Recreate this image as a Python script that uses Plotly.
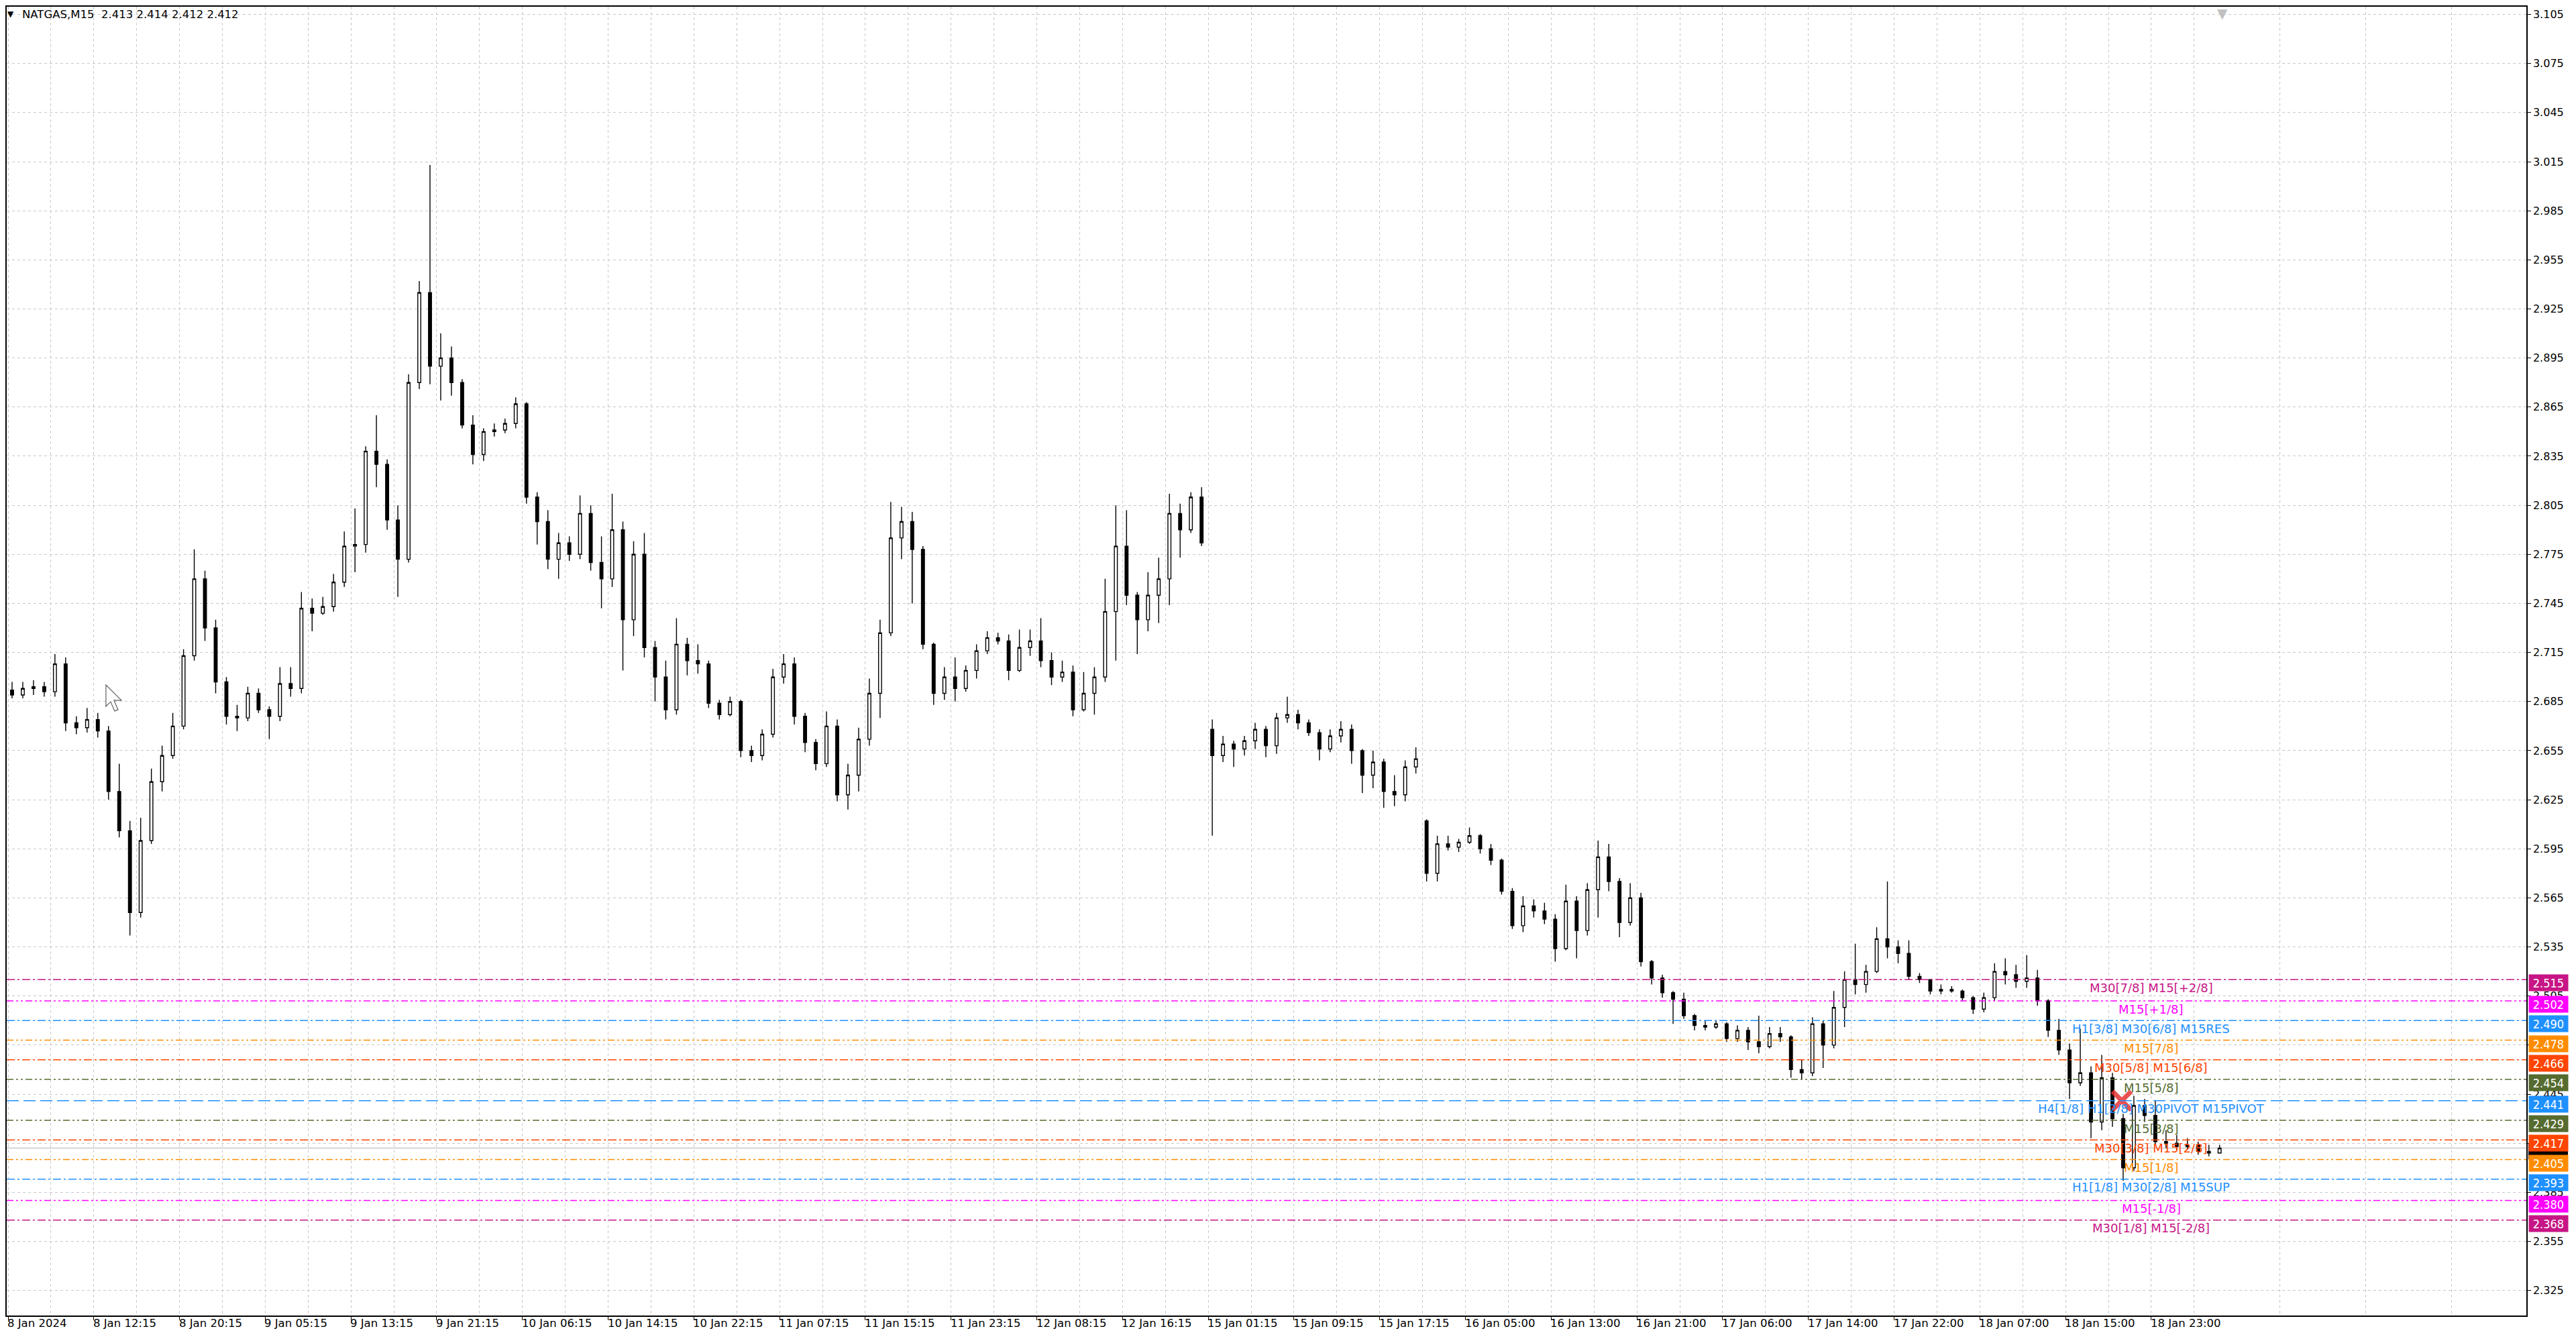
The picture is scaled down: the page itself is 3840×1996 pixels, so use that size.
import plotly.graph_objects as go

# ---------------- data (hourly candles) ----------------
opens = [2.692, 2.689, 2.693, 2.694, 2.691, 2.708, 2.672, 2.669, 2.674, 2.667,
         2.630, 2.606, 2.556, 2.600, 2.636, 2.652, 2.670, 2.713, 2.760, 2.730,
         2.697, 2.676, 2.675, 2.690, 2.680, 2.676, 2.696, 2.693, 2.742, 2.739,
         2.743, 2.758, 2.780, 2.781, 2.838, 2.830, 2.796, 2.772, 2.880, 2.935,
         2.890, 2.895, 2.880, 2.854, 2.836, 2.850, 2.851, 2.855, 2.867, 2.810,
         2.795, 2.772, 2.782, 2.775, 2.800, 2.770, 2.760, 2.790, 2.735, 2.775,
         2.718, 2.700, 2.680, 2.720, 2.710, 2.708, 2.684, 2.677, 2.685, 2.655,
         2.652, 2.665, 2.700, 2.708, 2.676, 2.660, 2.647, 2.670, 2.628, 2.640,
         2.662, 2.690, 2.727, 2.785, 2.795, 2.778, 2.720, 2.690, 2.700, 2.693,
         2.704, 2.716, 2.724, 2.722, 2.704, 2.718, 2.722, 2.710, 2.700, 2.703,
         2.680, 2.690, 2.700, 2.740, 2.780, 2.750, 2.735, 2.750, 2.760, 2.800,
         2.790, 2.810, 2.668, 2.652, 2.659, 2.656, 2.661, 2.668, 2.658, 2.675,
         2.677, 2.672, 2.666, 2.656, 2.664, 2.668, 2.655, 2.640, 2.648, 2.630,
         2.628, 2.645, 2.612, 2.580, 2.598, 2.596, 2.599, 2.603, 2.595, 2.588,
         2.569, 2.548, 2.560, 2.557, 2.552, 2.534, 2.563, 2.545, 2.570, 2.590,
         2.575, 2.550, 2.565, 2.526, 2.516, 2.507, 2.503, 2.493, 2.487, 2.486,
         2.488, 2.479, 2.484, 2.477, 2.474, 2.482, 2.480, 2.460, 2.458, 2.488,
         2.475, 2.498, 2.515, 2.512, 2.520, 2.540, 2.535, 2.531, 2.517, 2.515,
         2.508, 2.509, 2.508, 2.504, 2.497, 2.504, 2.520, 2.518, 2.514, 2.516,
         2.502, 2.484, 2.472, 2.452, 2.458, 2.428, 2.455, 2.430, 2.400, 2.438,
         2.432, 2.416, 2.415, 2.413, 2.414, 2.410, 2.409]
highs = [2.697, 2.697, 2.698, 2.697, 2.714, 2.712, 2.676, 2.681, 2.678, 2.670,
         2.647, 2.612, 2.614, 2.644, 2.658, 2.678, 2.717, 2.778, 2.765, 2.735,
         2.700, 2.683, 2.694, 2.693, 2.682, 2.706, 2.706, 2.752, 2.748, 2.749,
         2.763, 2.789, 2.803, 2.841, 2.860, 2.833, 2.805, 2.885, 2.942, 3.013,
         2.910, 2.902, 2.882, 2.860, 2.852, 2.855, 2.858, 2.871, 2.868, 2.813,
         2.802, 2.788, 2.786, 2.811, 2.805, 2.786, 2.812, 2.795, 2.783, 2.788,
         2.722, 2.710, 2.736, 2.724, 2.720, 2.710, 2.686, 2.688, 2.686, 2.658,
         2.668, 2.705, 2.714, 2.712, 2.678, 2.662, 2.679, 2.674, 2.647, 2.669,
         2.699, 2.735, 2.807, 2.804, 2.801, 2.780, 2.721, 2.706, 2.712, 2.707,
         2.720, 2.728, 2.727, 2.726, 2.729, 2.729, 2.736, 2.715, 2.710, 2.707,
         2.703, 2.706, 2.760, 2.805, 2.802, 2.752, 2.764, 2.773, 2.812, 2.806,
         2.813, 2.816, 2.674, 2.664, 2.661, 2.664, 2.672, 2.670, 2.678, 2.688,
         2.680, 2.674, 2.668, 2.668, 2.673, 2.671, 2.656, 2.655, 2.650, 2.640,
         2.649, 2.657, 2.613, 2.603, 2.603, 2.601, 2.608, 2.604, 2.598, 2.589,
         2.571, 2.566, 2.564, 2.562, 2.555, 2.573, 2.566, 2.574, 2.600, 2.598,
         2.577, 2.574, 2.568, 2.527, 2.518, 2.508, 2.507, 2.494, 2.490, 2.490,
         2.489, 2.487, 2.486, 2.493, 2.486, 2.486, 2.481, 2.466, 2.492, 2.490,
         2.508, 2.520, 2.537, 2.524, 2.547, 2.575, 2.539, 2.539, 2.519, 2.515,
         2.512, 2.511, 2.509, 2.505, 2.507, 2.525, 2.528, 2.524, 2.530, 2.521,
         2.503, 2.491, 2.476, 2.485, 2.462, 2.469, 2.458, 2.433, 2.444, 2.442,
         2.441, 2.423, 2.420, 2.418, 2.416, 2.414, 2.414]
lows = [2.687, 2.687, 2.689, 2.688, 2.688, 2.667, 2.665, 2.666, 2.663, 2.625,
        2.602, 2.542, 2.553, 2.598, 2.630, 2.650, 2.668, 2.710, 2.722, 2.690,
        2.671, 2.667, 2.673, 2.678, 2.662, 2.673, 2.688, 2.690, 2.728, 2.738,
        2.740, 2.755, 2.764, 2.776, 2.816, 2.790, 2.749, 2.770, 2.876, 2.879,
        2.869, 2.872, 2.852, 2.830, 2.832, 2.847, 2.849, 2.852, 2.806, 2.781,
        2.766, 2.760, 2.771, 2.772, 2.765, 2.742, 2.755, 2.704, 2.725, 2.712,
        2.685, 2.674, 2.677, 2.701, 2.702, 2.681, 2.674, 2.676, 2.651, 2.648,
        2.649, 2.663, 2.696, 2.671, 2.654, 2.643, 2.645, 2.624, 2.619, 2.630,
        2.658, 2.675, 2.725, 2.772, 2.745, 2.717, 2.683, 2.686, 2.685, 2.691,
        2.699, 2.714, 2.720, 2.698, 2.703, 2.713, 2.706, 2.695, 2.697, 2.676,
        2.679, 2.677, 2.697, 2.710, 2.744, 2.714, 2.728, 2.733, 2.744, 2.773,
        2.788, 2.780, 2.603, 2.648, 2.645, 2.652, 2.656, 2.651, 2.653, 2.672,
        2.668, 2.664, 2.649, 2.654, 2.660, 2.647, 2.629, 2.632, 2.620, 2.621,
        2.624, 2.641, 2.575, 2.575, 2.594, 2.593, 2.598, 2.592, 2.585, 2.567,
        2.546, 2.544, 2.553, 2.549, 2.526, 2.533, 2.528, 2.542, 2.553, 2.569,
        2.541, 2.548, 2.523, 2.512, 2.504, 2.488, 2.491, 2.484, 2.484, 2.485,
        2.477, 2.477, 2.472, 2.470, 2.473, 2.477, 2.455, 2.454, 2.456, 2.461,
        2.473, 2.486, 2.506, 2.507, 2.519, 2.528, 2.525, 2.515, 2.513, 2.506,
        2.506, 2.507, 2.502, 2.494, 2.495, 2.502, 2.512, 2.510, 2.510, 2.499,
        2.480, 2.469, 2.442, 2.450, 2.418, 2.423, 2.425, 2.392, 2.398, 2.428,
        2.414, 2.412, 2.411, 2.411, 2.408, 2.407, 2.409]
closes = [2.689, 2.693, 2.694, 2.691, 2.708, 2.672, 2.669, 2.674, 2.667, 2.630,
          2.606, 2.556, 2.600, 2.636, 2.652, 2.670, 2.713, 2.760, 2.730, 2.697,
          2.676, 2.675, 2.690, 2.680, 2.676, 2.696, 2.693, 2.742, 2.739, 2.743,
          2.758, 2.780, 2.781, 2.838, 2.830, 2.796, 2.772, 2.880, 2.935, 2.890,
          2.895, 2.880, 2.854, 2.836, 2.850, 2.851, 2.855, 2.867, 2.810, 2.795,
          2.772, 2.782, 2.775, 2.800, 2.770, 2.760, 2.790, 2.735, 2.775, 2.718,
          2.700, 2.680, 2.720, 2.710, 2.708, 2.684, 2.677, 2.685, 2.655, 2.652,
          2.665, 2.700, 2.708, 2.676, 2.660, 2.647, 2.670, 2.628, 2.640, 2.662,
          2.690, 2.727, 2.785, 2.795, 2.778, 2.720, 2.690, 2.700, 2.693, 2.704,
          2.716, 2.724, 2.722, 2.704, 2.718, 2.722, 2.710, 2.700, 2.703, 2.680,
          2.690, 2.700, 2.740, 2.780, 2.750, 2.735, 2.750, 2.760, 2.800, 2.790,
          2.810, 2.782, 2.652, 2.659, 2.656, 2.661, 2.668, 2.658, 2.675, 2.677,
          2.672, 2.666, 2.656, 2.664, 2.668, 2.655, 2.640, 2.648, 2.630, 2.628,
          2.645, 2.650, 2.580, 2.598, 2.596, 2.599, 2.603, 2.595, 2.588, 2.569,
          2.548, 2.560, 2.557, 2.552, 2.534, 2.563, 2.545, 2.570, 2.590, 2.575,
          2.550, 2.565, 2.526, 2.516, 2.507, 2.503, 2.493, 2.487, 2.486, 2.488,
          2.479, 2.484, 2.477, 2.474, 2.482, 2.480, 2.460, 2.458, 2.488, 2.475,
          2.498, 2.515, 2.512, 2.520, 2.540, 2.535, 2.531, 2.517, 2.515, 2.508,
          2.509, 2.508, 2.504, 2.497, 2.504, 2.520, 2.518, 2.514, 2.516, 2.502,
          2.484, 2.472, 2.452, 2.458, 2.428, 2.455, 2.430, 2.400, 2.438, 2.432,
          2.416, 2.415, 2.413, 2.414, 2.410, 2.409, 2.412]

time_labels = ["8 Jan 2024", "8 Jan 12:15", "8 Jan 20:15", "9 Jan 05:15", "9 Jan 13:15",
               "9 Jan 21:15", "10 Jan 06:15", "10 Jan 14:15", "10 Jan 22:15", "11 Jan 07:15",
               "11 Jan 15:15", "11 Jan 23:15", "12 Jan 08:15", "12 Jan 16:15", "15 Jan 01:15",
               "15 Jan 09:15", "15 Jan 17:15", "16 Jan 05:00", "16 Jan 13:00", "16 Jan 21:00",
               "17 Jan 06:00", "17 Jan 14:00", "17 Jan 22:00", "18 Jan 07:00", "18 Jan 15:00",
               "18 Jan 23:00"]

price_ticks = [2.325, 2.355, 2.385, 2.415, 2.445, 2.475, 2.505, 2.535, 2.565, 2.595,
               2.625, 2.655, 2.685, 2.715, 2.745, 2.775, 2.805, 2.835, 2.865, 2.895,
               2.925, 2.955, 2.985, 3.015, 3.045, 3.075, 3.105]

level_prices = [2.515, 2.502, 2.490, 2.478, 2.466, 2.454, 2.441, 2.429, 2.417,
                2.405, 2.393, 2.380, 2.368]
level_texts = ["M30[7/8] M15[+2/8]", "M15[+1/8]", "H1[3/8] M30[6/8] M15RES", "M15[7/8]",
               "M30[5/8] M15[6/8]", "M15[5/8]", "H4[1/8] H1[2/8] M30PIVOT M15PIVOT",
               "M15[3/8]", "M30[3/8] M15[2/8]", "M15[1/8]", "H1[1/8] M30[2/8] M15SUP",
               "M15[-1/8]", "M30[1/8] M15[-2/8]"]

header_text = "NATGAS,M15  2.413 2.414 2.412 2.412"
bid_price = 2.412
signal_bar = 789
signal_price = 2.441

# ---------------- styling ----------------
VIOLET, MAGENTA, BLUE = "#C71585", "#FF00FF", "#1E90FF"
ORANGE, ORANGERED, OLIVE = "#FF8C00", "#FF4500", "#556B2F"
level_colors = [VIOLET, MAGENTA, BLUE, ORANGE, ORANGERED, OLIVE, BLUE, OLIVE,
                ORANGERED, ORANGE, BLUE, MAGENTA, VIOLET]
DD = "12px,4px,3px,4px"            # dash-dot
DDD = "10px,4px,3px,4px,3px,4px"   # dash-dot-dot
LONG = "18px,7px"
level_dashes = [DD, DDD, DD, DDD, DD, DDD, LONG, DDD, DD, DDD, DD, DDD, DD]

# The page body has an 8px margin, so the figure starts at page (8, 8).
OFF = 8
W, H = 3840 - OFF, 1996 - 2 * OFF
PLOT_L, PLOT_T, PLOT_R, PLOT_B = 8, 8, 3766, 1961        # page pixels
ML, MT = PLOT_L - OFF, PLOT_T - OFF
MR = W - (PLOT_R - OFF)
MB = H - (PLOT_B - OFF)
PW, PH = PLOT_R - PLOT_L, PLOT_B - PLOT_T
BARS_PER_CANDLE = 4
x_range = [-0.5, 940]
y_range = [2.30967, 3.10975]
PX_PER_PRICE = PH / (y_range[1] - y_range[0])

def xp(px):
    return (px - PLOT_L) / PW

def yp(py):
    return (PLOT_B - py) / PH

candle_x = [i * BARS_PER_CANDLE + 1.5 for i in range(len(closes))]
label_bars = [32 * k for k in range(len(time_labels))]
grid_minor = [16 + 32 * k for k in range(len(time_labels) + 3)]

fig = go.Figure()
fig.add_trace(go.Candlestick(
    x=candle_x, open=opens, high=highs, low=lows, close=closes,
    increasing=dict(line=dict(color="black", width=1.4), fillcolor="white"),
    decreasing=dict(line=dict(color="black", width=1.4), fillcolor="black"),
    whiskerwidth=0, hoverinfo="skip", showlegend=False,
))

fig.add_trace(go.Scatter(
    x=[signal_bar], y=[signal_price], mode="markers",
    marker=dict(symbol="x-thin", size=28, line=dict(width=7, color="rgba(232,52,52,0.85)")),
    hoverinfo="skip", showlegend=False,
))

shapes = []
annotations = []

# bid line
shapes.append(dict(type="line", xref="paper", x0=0, x1=1, yref="y", y0=bid_price, y1=bid_price,
                   line=dict(color="#C0C0C0", width=1.2), layer="below"))

for p, t, c, d in zip(level_prices, level_texts, level_colors, level_dashes):
    shapes.append(dict(type="line", xref="paper", x0=0, x1=1, yref="y", y0=p, y1=p,
                       line=dict(color=c, width=1.5, dash=d)))
    annotations.append(dict(x=800, y=p, xref="x", yref="y", text=t, showarrow=False,
                            xanchor="center", yanchor="middle", yshift=-12,
                            font=dict(family="DejaVu Sans", size=18, color=c)))

# current-price box (mostly hidden behind the neighbouring level boxes)
half_box = 12 / PX_PER_PRICE
shift_box = 5 / PX_PER_PRICE
shapes.append(dict(type="rect", xref="paper", yref="y", x0=xp(3769), x1=xp(3828),
                   y0=bid_price - shift_box - half_box, y1=bid_price - shift_box + half_box,
                   fillcolor="black", line=dict(width=0)))

box_font = dict(family="DejaVu Sans Condensed, DejaVu Sans", size=18, color="white")
for p, c in zip(level_prices, level_colors):
    annotations.append(dict(x=1, y=p, xref="paper", yref="y", text=f"{p:.3f}",
                            showarrow=False, xanchor="left", yanchor="middle", xshift=3, yshift=-5,
                            width=58, height=24, bgcolor=c, borderpad=0, font=box_font))

# time labels (left-aligned at their tick)
for b, t in zip(label_bars, time_labels):
    annotations.append(dict(x=b, y=0, xref="x", yref="paper", text=t, showarrow=False,
                            xanchor="left", yanchor="middle", xshift=-3, yshift=-11,
                            font=dict(family="DejaVu Sans", size=16.5, color="black")))

# header
annotations.append(dict(x=xp(7), y=yp(19), xref="paper", yref="paper", text="▼", showarrow=False,
                        xanchor="left", yanchor="middle",
                        font=dict(family="DejaVu Sans", size=12, color="black")))
annotations.append(dict(x=xp(29), y=yp(20), xref="paper", yref="paper", text=header_text,
                        showarrow=False, xanchor="left", yanchor="middle",
                        font=dict(family="DejaVu Sans", size=16.5, color="black")))
# chart-shift marker
annotations.append(dict(x=xp(3313), y=1, xref="paper", yref="paper", text="▼", showarrow=False,
                        xanchor="center", yanchor="top", yshift=4,
                        font=dict(family="DejaVu Sans", size=20, color="#C0C0C0")))

# mouse cursor left on the screenshot (page pixels)
cursor_pts = [(156, 1020), (156, 1052), (163, 1045), (169, 1059), (174, 1057),
              (168, 1043), (179, 1043)]
cursor_path = "M " + " L ".join(f"{xp(x):.6f},{yp(y):.6f}" for x, y in cursor_pts) + " Z"
shapes.append(dict(type="path", xref="paper", yref="paper", path=cursor_path,
                   fillcolor="white", line=dict(color="#606060", width=1.2)))

grid_style = dict(gridcolor="#C8C8C8", gridwidth=1, griddash="4px,4px")

fig.update_layout(
    width=W, height=H,
    margin=dict(l=ML, r=MR, t=MT, b=MB, pad=0),
    paper_bgcolor="white", plot_bgcolor="white",
    boxgap=0.6,
    shapes=shapes, annotations=annotations,
    xaxis=dict(range=x_range, rangeslider=dict(visible=False), tickmode="array",
               tickvals=label_bars, showticklabels=False, ticks="outside", ticklen=5,
               tickcolor="black", showgrid=True, zeroline=False,
               showline=True, linecolor="black", linewidth=1.5, mirror=True,
               minor=dict(tickmode="array", tickvals=grid_minor, showgrid=True,
                          gridcolor="#C8C8C8", griddash="4px,4px", ticks=""),
               **grid_style),
    yaxis=dict(range=y_range, side="right", tickmode="array", tickvals=price_ticks,
               ticktext=[f"{v:.3f}" for v in price_ticks], ticks="outside", ticklen=5,
               tickcolor="black", showgrid=True, zeroline=False,
               showline=True, linecolor="black", linewidth=1.5, mirror=True,
               tickfont=dict(family="DejaVu Sans", size=16, color="black"),
               **grid_style),
    hovermode=False,
)

fig.write_html("out.html")
